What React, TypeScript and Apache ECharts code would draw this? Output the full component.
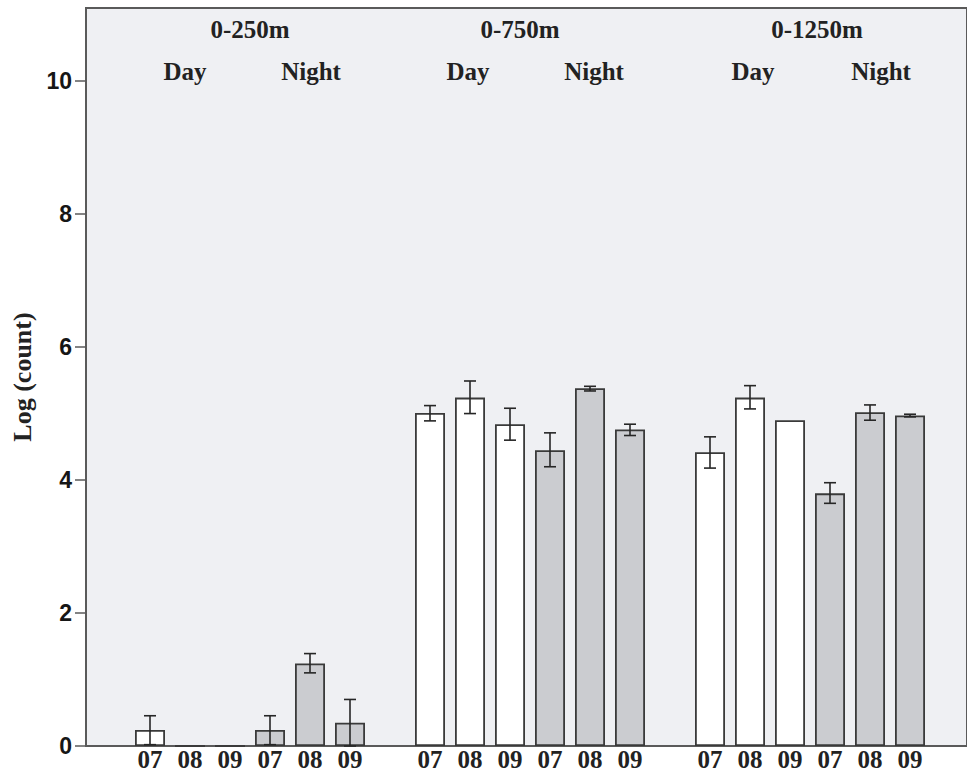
import React, { useEffect, useRef } from 'react';
import * as echarts from 'echarts';

const depthGroups = ['0-250m', '0-750m', '0-1250m'];
const periods = ['Day', 'Night'];
const months = ['07', '08', '09'];

const dayMeans = [
  [0.24, 0, 0],
  [5.01, 5.24, 4.84],
  [4.42, 5.24, 4.9],
];
const nightMeans = [
  [0.24, 1.24, 0.35],
  [4.45, 5.38, 4.76],
  [3.8, 5.02, 4.97],
];
const dayErrLow = [
  [0.02, null, null],
  [4.89, 5.0, 4.6],
  [4.18, 5.07, null],
];
const dayErrHigh = [
  [0.455, null, null],
  [5.12, 5.49, 5.08],
  [4.65, 5.42, null],
];
const nightErrLow = [
  [0.02, 1.1, 0.0],
  [4.2, 5.34, 4.67],
  [3.65, 4.9, 4.95],
];
const nightErrHigh = [
  [0.455, 1.39, 0.7],
  [4.71, 5.41, 4.84],
  [3.96, 5.13, 4.99],
];

const yTicks = [0, 2, 4, 6, 8, 10];
const yMax = 11.1;

const SERIF = "'Liberation Serif', 'Times New Roman', serif";
const SANS = "'Liberation Sans', Arial, sans-serif";
const DAY_COLOR = '#ffffff';
const NIGHT_COLOR = '#cbccd0';

function buildData() {
  const categories: string[] = [''];
  const barData: any[] = [null];
  const errData: number[][] = [];
  depthGroups.forEach((_g, gi) => {
    if (gi > 0) {
      categories.push('');
      barData.push(null);
    }
    periods.forEach((_p, pi) => {
      months.forEach((m, mi) => {
        const idx = categories.length;
        categories.push(m);
        const means = pi === 0 ? dayMeans : nightMeans;
        const lows = pi === 0 ? dayErrLow : nightErrLow;
        const highs = pi === 0 ? dayErrHigh : nightErrHigh;
        barData.push({
          value: means[gi][mi],
          itemStyle: { color: pi === 0 ? DAY_COLOR : NIGHT_COLOR },
        });
        const lo = lows[gi][mi];
        const hi = highs[gi][mi];
        if (lo != null && hi != null) errData.push([idx, lo, hi]);
      });
    });
  });
  return { categories, barData, errData };
}

const labelTexts = [
  { text: depthGroups[0], x: 250, y: 29 },
  { text: depthGroups[1], x: 520, y: 29 },
  { text: depthGroups[2], x: 817, y: 29 },
  { text: periods[0], x: 185, y: 71 },
  { text: periods[1], x: 311, y: 71 },
  { text: periods[0], x: 468, y: 71 },
  { text: periods[1], x: 594, y: 71 },
  { text: periods[0], x: 753, y: 71 },
  { text: periods[1], x: 881, y: 71 },
];

export default function App() {
  const ref = useRef<HTMLDivElement>(null);
  useEffect(() => {
    if (!ref.current) return;
    const chart = echarts.init(ref.current, null, { renderer: 'svg' });
    const { categories, barData, errData } = buildData();
    const option: any = {
      animation: false,
      backgroundColor: '#ffffff',
      grid: [
        {
          left: 86,
          top: 8,
          right: -20,
          bottom: 30,
          show: true,
          backgroundColor: '#eff0f3',
          borderColor: '#5a5a5a',
          borderWidth: 2,
        },
        { left: 90, top: 8, width: 840, bottom: 30 },
      ],
      xAxis: [
        { type: 'value', gridIndex: 0, show: false, min: 0, max: 1 },
        {
          type: 'category',
          gridIndex: 1,
          data: categories,
          axisLine: { show: false },
          axisTick: { show: false },
          axisLabel: {
            interval: 0,
            margin: 1,
            fontFamily: SERIF,
            fontWeight: 'bold',
            fontSize: 25,
            color: '#222222',
          },
        },
      ],
      yAxis: [
        {
          type: 'value',
          gridIndex: 0,
          min: 0,
          max: yMax,
          splitLine: { show: false },
          axisLine: { show: true, lineStyle: { color: '#5a5a5a', width: 2 } },
          axisTick: {
            show: true,
            length: 11,
            customValues: yTicks,
            lineStyle: { color: '#5a5a5a', width: 1.5 },
          },
          axisLabel: {
            customValues: yTicks,
            margin: 14,
            fontFamily: SANS,
            fontWeight: 'bold',
            fontSize: 23,
            color: '#161616',
          },
          name: 'Log (count)',
          nameLocation: 'middle',
          nameGap: 48,
          nameRotate: 90,
          nameTextStyle: {
            fontFamily: SERIF,
            fontWeight: 'bold',
            fontSize: 26,
            color: '#222222',
          },
        },
        { type: 'value', gridIndex: 1, min: 0, max: yMax, show: false },
      ],
      graphic: labelTexts.map((t) => ({
        type: 'text',
        x: t.x,
        y: t.y,
        style: {
          text: t.text,
          fontFamily: SERIF,
          fontWeight: 'bold',
          fontSize: 25,
          fill: '#222222',
          textAlign: 'center',
          textVerticalAlign: 'middle',
        },
      })),
      series: [
        {
          type: 'bar',
          xAxisIndex: 1,
          yAxisIndex: 1,
          data: barData,
          barWidth: 30,
          itemStyle: { borderColor: '#3a3a3a', borderWidth: 1.8 },
        },
        {
          type: 'custom',
          xAxisIndex: 1,
          yAxisIndex: 1,
          data: errData,
          encode: { x: 0, y: [1, 2] },
          z: 10,
          renderItem: (_params: any, api: any) => {
            const x = api.value(0);
            const lo = api.coord([x, api.value(1)]);
            const hi = api.coord([x, api.value(2)]);
            const cap = 6;
            const style = { stroke: '#262626', lineWidth: 1.6 };
            return {
              type: 'group',
              children: [
                { type: 'line', shape: { x1: hi[0], y1: hi[1], x2: lo[0], y2: lo[1] }, style },
                { type: 'line', shape: { x1: hi[0] - cap, y1: hi[1], x2: hi[0] + cap, y2: hi[1] }, style },
                { type: 'line', shape: { x1: lo[0] - cap, y1: lo[1], x2: lo[0] + cap, y2: lo[1] }, style },
              ],
            };
          },
        },
      ],
    };
    chart.setOption(option);
    return () => chart.dispose();
  }, []);
  return (
    <div
      ref={ref}
      style={{ position: 'fixed', left: 0, top: 0, width: 967, height: 776 }}
    />
  );
}
